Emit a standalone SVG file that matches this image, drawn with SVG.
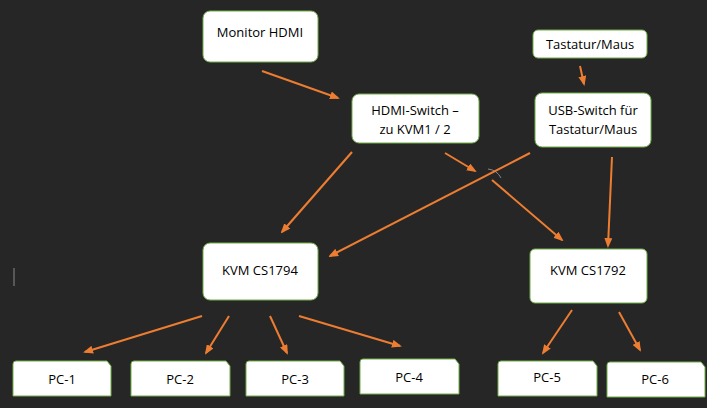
<svg xmlns="http://www.w3.org/2000/svg" width="707" height="408" viewBox="0 0 707 408">
<style>
.b{fill:#fff;stroke:#70ad47;stroke-width:1}
.t{font-family:"Open Sans","Liberation Sans",sans-serif;font-size:13px;fill:#000;text-anchor:middle}
.c{stroke:#ed7d31;stroke-width:2;fill:none;marker-end:url(#a)}
</style>
<defs><marker id="a" markerWidth="10" markerHeight="8" refX="8" refY="4" orient="auto" markerUnits="userSpaceOnUse"><path d="M0,0L10,4L0,8z" fill="#ed7d31"/></marker></defs>
<rect width="707" height="408" fill="#262626"/>
<line x1="14" y1="268" x2="14" y2="286" stroke="#888" stroke-width="1"/>
<g id="connectors">
<path class="c" d="M262,71L338,98"/>
<path class="c" d="M580,66L584,84"/>
<path class="c" d="M352,152L282,232"/>
<path class="c" d="M445,153L475,171"/>
<path class="c" d="M492,180L562,240"/>
<path d="M488,169Q497,170 501,178" stroke="#888" stroke-width="1" fill="none"/>
<path class="c" d="M530,153L330,256"/>
<path class="c" d="M612,157L608,246"/>
<path class="c" d="M202,316L85,352"/>
<path class="c" d="M229,316L206,353"/>
<path class="c" d="M270,316L287,353"/>
<path class="c" d="M299,316L400,346"/>
<path class="c" d="M572,310L543,353"/>
<path class="c" d="M619,312L640,350"/>
</g>
<g id="monitor"><rect class="b" x="203" y="11" width="115" height="51" rx="7"/><text class="t" x="260" y="37">Monitor HDMI</text></g>
<g id="tastatur"><rect class="b" x="533" y="30" width="114" height="28" rx="5"/><text class="t" x="590" y="49">Tastatur/Maus</text></g>
<g id="hdmi"><rect class="b" x="352" y="94" width="127" height="49" rx="7"/><text class="t" x="415" y="115">HDMI-Switch –</text><text class="t" x="415" y="134">zu KVM1 /  2</text></g>
<g id="usb"><rect class="b" x="535" y="93" width="116" height="54" rx="7"/><text class="t" x="593" y="115">USB-Switch für</text><text class="t" x="593" y="134">Tastatur/Maus</text></g>
<g id="kvm1794"><rect class="b" x="203" y="243" width="115" height="57" rx="7"/><text class="t" x="260" y="275">KVM CS1794</text></g>
<g id="kvm1792"><rect class="b" x="530" y="249" width="117" height="54" rx="5"/><text class="t" x="588" y="275">KVM CS1792</text></g>
<g id="pc1"><path class="b" d="M13,364Q13,361 16,361H107L111,366V396H13Z"/><text class="t" x="62" y="384">PC-1</text></g>
<g id="pc2"><path class="b" d="M131,364Q131,361 134,361H226L230,366V396H131Z"/><text class="t" x="180" y="384">PC-2</text></g>
<g id="pc3"><path class="b" d="M246,364Q246,361 249,361H340L344,366V396H246Z"/><text class="t" x="295" y="384">PC-3</text></g>
<g id="pc4"><path class="b" d="M360,362Q360,359 363,359H455L459,364V394H360Z"/><text class="t" x="409" y="382">PC-4</text></g>
<g id="pc5"><path class="b" d="M498,364Q498,361 501,361H593L597,366V396H498Z"/><text class="t" x="547" y="382">PC-5</text></g>
<g id="pc6"><path class="b" d="M607,365Q607,362 610,362H701L705,367V397H607Z"/><text class="t" x="655" y="384">PC-6</text></g>
</svg>
